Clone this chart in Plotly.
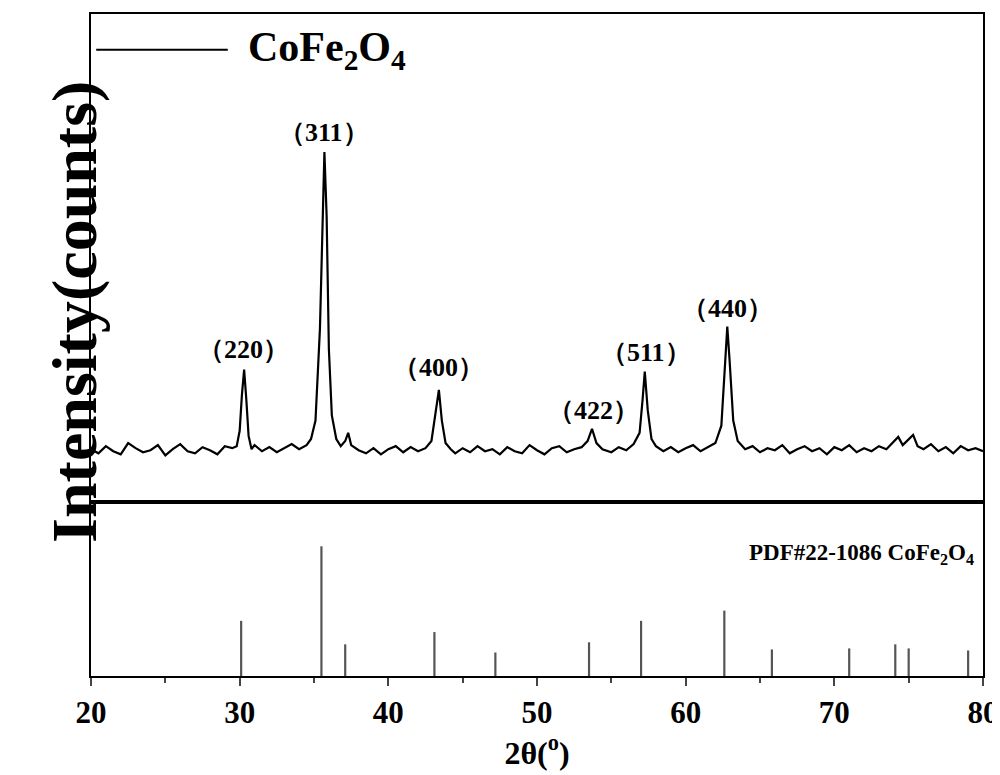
import plotly.graph_objects as go
from plotly.subplots import make_subplots

two_theta = [20.0,20.5,21.0,21.5,22.0,22.5,23.0,23.5,24.0,24.5,25.0,25.5,26.0,26.5,27.0,27.5,28.0,28.5,29.0,29.5,
 29.8,30.0,30.15,30.3,30.45,30.6,30.8,31.0,31.5,32.0,32.5,33.0,33.5,34.0,34.5,34.8,35.1,35.4,35.6,35.7,35.85,36.0,36.2,36.5,36.8,37.1,37.3,37.5,
 38.0,38.5,39.0,39.5,40.0,40.5,41.0,41.5,42.0,42.5,42.9,43.15,43.4,43.6,43.85,44.2,44.5,
 45.0,45.5,46.0,46.5,47.0,47.5,48.0,48.5,49.0,49.5,50.0,50.5,51.0,51.5,52.0,52.5,53.0,53.4,53.7,54.0,54.4,
 55.0,55.5,56.0,56.5,56.9,57.1,57.25,57.45,57.7,58.0,58.5,59.0,59.5,60.0,60.5,61.0,61.5,62.0,62.4,62.65,62.8,62.95,63.2,63.5,
 64.0,64.5,65.0,65.5,66.0,66.5,67.0,67.5,68.0,68.5,69.0,69.5,70.0,70.5,71.0,71.5,72.0,72.5,73.0,73.5,74.0,74.3,74.6,75.0,75.3,75.6,
 76.0,76.5,77.0,77.5,78.0,78.5,79.0,79.5,80.0]
counts = [52,48,55,50,47,58,53,49,51,56,46,52,57,50,48,54,51,47,55,53,
 55,70,105,130,100,65,52,56,50,54,49,53,57,52,56,62,80,170,300,343,280,150,85,62,55,60,68,56,
 51,48,53,47,52,55,49,54,50,53,60,85,110,80,58,52,48,
 53,49,55,50,52,47,54,50,48,56,51,47,53,55,49,52,54,60,72,58,52,
 49,54,51,57,68,100,128,90,62,55,50,54,49,53,56,50,54,58,75,140,172,140,80,60,
 52,55,49,53,51,56,48,52,55,50,53,47,54,51,56,49,53,50,55,52,60,64,56,62,66,55,
 52,57,50,54,48,55,51,53,50]

ref_pos = [30.1,35.5,37.1,43.1,47.2,53.5,57.0,62.6,65.8,71.0,74.1,75.0,79.0]
ref_int = [54,127,31,43,23,33,54,64,26,27,31,27,25]

peak_labels = ["（220）","（311）","（400）","（422）","（511）","（440）"]
label_x = [30.25,35.7,43.4,53.8,57.3,62.8]
label_y = [150,362,132,90,147,190]

fig = make_subplots(rows=2, cols=1, shared_xaxes=True, vertical_spacing=0,
                    row_heights=[478, 170])
fig.add_trace(go.Scatter(x=two_theta, y=counts, mode="lines",
                         line=dict(color="black", width=2.2), showlegend=False), row=1, col=1)
sx, sy = [], []
for p, h in zip(ref_pos, ref_int):
    sx += [p, p, None]; sy += [0, h, None]
fig.add_trace(go.Scatter(x=sx, y=sy, mode="lines",
                         line=dict(color="#555555", width=2.2), showlegend=False), row=2, col=1)

font_b = dict(family="Liberation Serif", color="black")
for t, x, y in zip(peak_labels, label_x, label_y):
    fig.add_annotation(x=x, y=y, text="<b>"+t+"</b>", showarrow=False, xref="x", yref="y",
                       font=dict(size=26, **font_b))
fig.add_annotation(x=79.5, y=119, xref="x2", yref="y2", xanchor="right", showarrow=False,
                   text="<b>PDF#22-1086 CoFe<sub>2</sub>O<sub>4</sub></b>", font=dict(size=23, **font_b))
fig.add_annotation(x=30.4, y=0.946, xref="x", yref="paper", xanchor="left", yanchor="middle",
                   showarrow=False,
                   text="<b>CoFe<sub>2</sub>O<sub>4</sub></b>", font=dict(size=42, **font_b))
fig.add_shape(type="line", x0=20.35, x1=29.2, y0=0.946, y1=0.946, xref="x", yref="paper",
              line=dict(color="black", width=2))
fig.add_annotation(x=-0.06, y=0.55, xref="paper", yref="paper", textangle=-90, showarrow=False,
                   text="<b>Intensity(counts)</b>", font=dict(size=64, **font_b))

ax = dict(showline=True, mirror=True, linecolor="black", linewidth=2, showgrid=False, zeroline=False)
fig.update_xaxes(range=[20, 80], **ax)
fig.update_xaxes(ticks="outside", ticklen=8, tickwidth=2, dtick=10,
                 minor=dict(ticks="outside", ticklen=5, dtick=5, tickwidth=2),
                 tickfont=dict(size=31, **font_b), tickprefix="<b>", ticksuffix="</b>",
                 title=dict(text="<b>2θ(<sup>o</sup>)</b>", font=dict(size=32, **font_b), standoff=0),
                 row=2, col=1)
fig.update_yaxes(showticklabels=False, ticks="", **ax)
fig.update_yaxes(range=[0, 478], row=1, col=1)
fig.update_yaxes(range=[0, 170], row=2, col=1)
fig.update_layout(width=1000, height=775, margin=dict(l=83, r=25, t=4, b=107),
                  plot_bgcolor="white", paper_bgcolor="white")
fig.write_html("out.html")
